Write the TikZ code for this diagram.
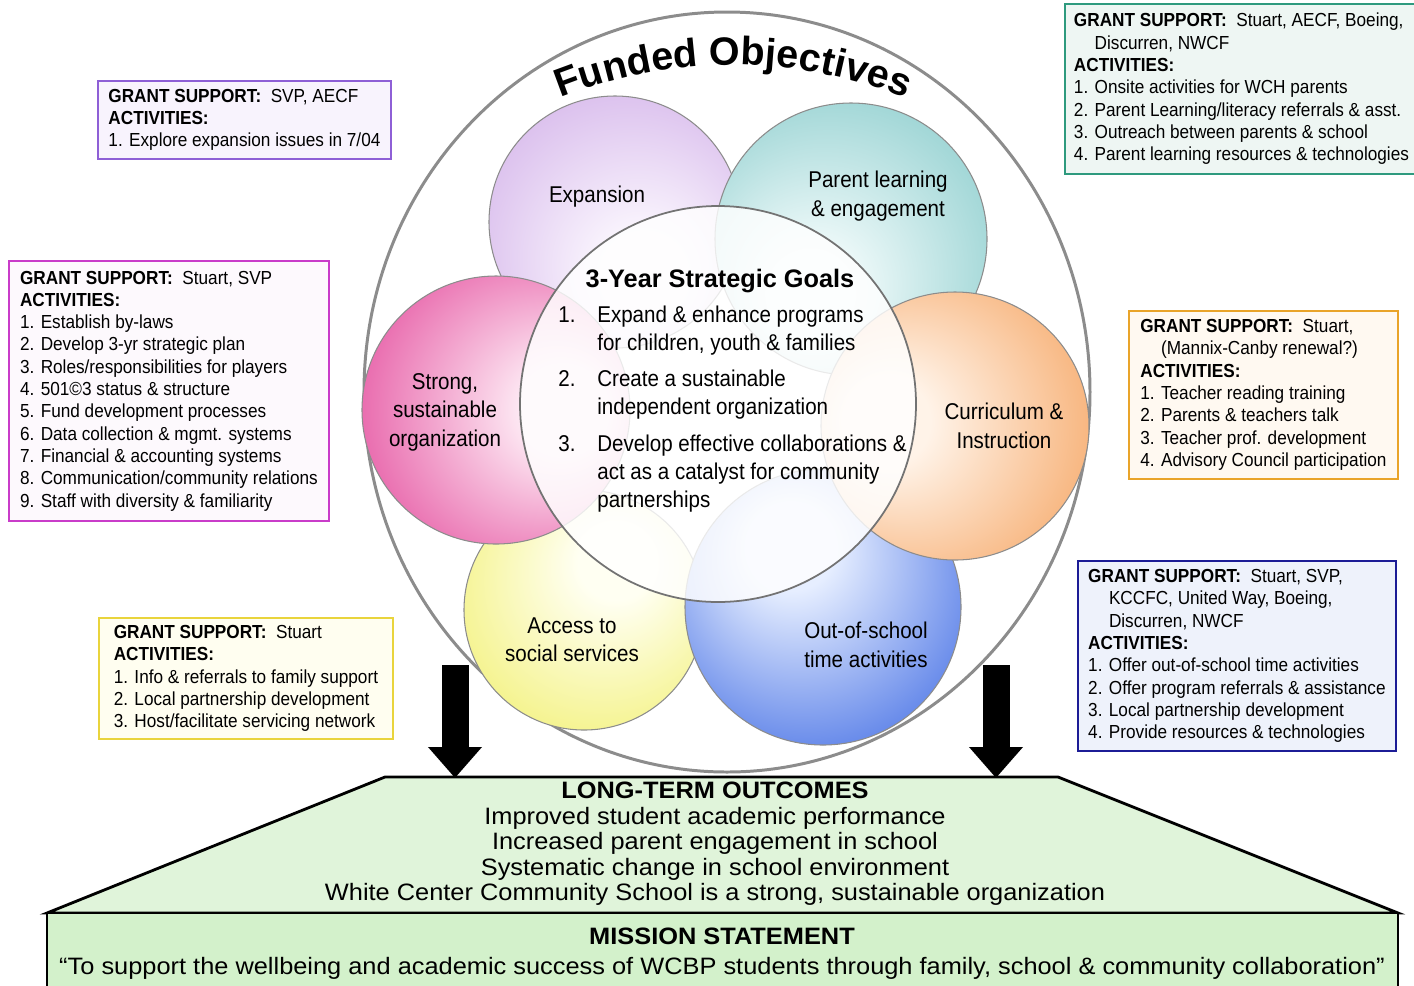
\documentclass[tikz,border=0pt]{standalone}
\usepackage{fontspec}
\setmainfont{Liberation Sans}
\newfontfamily\boxfont[FakeStretch=0.91]{Liberation Sans}
\newfontfamily\petalfont[FakeStretch=0.9]{Liberation Sans}
\newfontfamily\outfont[FakeStretch=1.07]{Liberation Sans}
\usetikzlibrary{arrows.meta,decorations.text}
\definecolor{expedge}{HTML}{8E5FD6}
\definecolor{expfill}{HTML}{F8F3FD}
\definecolor{paredge}{HTML}{2E9A7E}
\definecolor{parfill}{HTML}{EEF6F3}
\definecolor{orgedge}{HTML}{C93CC9}
\definecolor{orgfill}{HTML}{FDF9FD}
\definecolor{curedge}{HTML}{E9A42A}
\definecolor{curfill}{HTML}{FFF9F1}
\definecolor{accedge}{HTML}{E9D43C}
\definecolor{accfill}{HTML}{FFFEF0}
\definecolor{outedge}{HTML}{1C1C96}
\definecolor{outfill}{HTML}{EEF2FB}
\definecolor{ltogreen}{HTML}{E0F4DA}
\definecolor{missgreen}{HTML}{D3F1CB}
\definecolor{expin}{HTML}{FBF7FE}
\definecolor{expout}{HTML}{CDA8E6}
\definecolor{parin}{HTML}{F0FAFA}
\definecolor{parout}{HTML}{7CC6C6}
\definecolor{curin}{HTML}{FFF3E8}
\definecolor{curout}{HTML}{F49A50}
\definecolor{outin}{HTML}{E6EEFF}
\definecolor{outout}{HTML}{2A5AE0}
\definecolor{accin}{HTML}{FFFFF2}
\definecolor{accout}{HTML}{F0EE60}
\definecolor{orgin}{HTML}{FDE8F3}
\definecolor{orgout}{HTML}{E0338F}
\pgfdeclareradialshading{expball}{\pgfpoint{7bp}{-13bp}}{color(0bp)=(expin); color(8bp)=(expin); color(35bp)=(expout!80!expin); color(50bp)=(expout)}
\pgfdeclareradialshading{parball}{\pgfpoint{-9bp}{-12bp}}{color(0bp)=(parin); color(8bp)=(parin); color(35bp)=(parout!80!parin); color(50bp)=(parout)}
\pgfdeclareradialshading{curball}{\pgfpoint{-15bp}{1bp}}{color(0bp)=(curin); color(8bp)=(curin); color(35bp)=(curout!80!curin); color(50bp)=(curout)}
\pgfdeclareradialshading{outball}{\pgfpoint{-7bp}{13bp}}{color(0bp)=(outin); color(8bp)=(outin); color(35bp)=(outout!80!outin); color(50bp)=(outout)}
\pgfdeclareradialshading{accball}{\pgfpoint{8bp}{12bp}}{color(0bp)=(accin); color(8bp)=(accin); color(35bp)=(accout!80!accin); color(50bp)=(accout)}
\pgfdeclareradialshading{orgball}{\pgfpoint{15bp}{0bp}}{color(0bp)=(orgin); color(8bp)=(orgin); color(35bp)=(orgout!80!orgin); color(50bp)=(orgout)}
\begin{document}
\begin{tikzpicture}[x=0.02cm,y=0.02cm,
  gsbox/.style={draw, line width=1.1pt, anchor=north west, align=left, inner xsep=0.18cm, inner ysep=0pt,
    font={\boxfont\fontsize{10.75}{12.7}\selectfont}},
  petal/.style={draw=black!45, line width=0.6pt},
  petlbl/.style={align=center, font={\petalfont\fontsize{13}{16.2}\selectfont}},
  bigarrow/.style={line width=0.54cm, -{Triangle[width=1.04cm,length=0.62cm]}}]
\useasboundingbox (0,0) rectangle (1414,-985);
% outer oval and title
\draw [draw=black!45, line width=1.7pt] (727,-392) ellipse [x radius=363, y radius=380];
\path [decorate, decoration={text along path, text align=center,
  text={|\fontsize{22.5}{22.5}\selectfont\bfseries|Funded Objectives}}]
  (432.8,-174.3) arc [start angle=130, end angle=50, radius=467];
% petals
\draw [petal, shading=expball] (615,-222) circle (126);
\draw [petal, shading=parball] (851,-239) circle (136);
\draw [petal, shading=accball] (584,-610) circle (120);
\draw [petal, shading=outball] (823,-607) circle (138);
\draw [petal, shading=curball] (955,-426) circle (134);
\draw [petal, shading=orgball] (496,-410) circle (134);
\draw [draw=black!55, line width=1pt, fill=white, fill opacity=0.82] (718,-404) circle (198);
\node [petlbl] (expansion) at (597,-197) {Expansion};
\node [petlbl] (parent) at (878,-196) {Parent learning\\ \& engagement};
\node [petlbl] (curric) at (1004,-426) {Curriculum \&\\ Instruction};
\node [petlbl] (outschool) at (866,-645) {Out-of-school\\ time activities};
\node [petlbl] (access) at (572,-640) {Access to\\ social services};
\node [petlbl] (strong) at (445,-412) {Strong,\\ sustainable\\ organization};
% goals
\node [font={\bfseries\fontsize{14.4}{16}\selectfont}] (goals-title) at (720,-281) {3-Year Strategic Goals};
\node [anchor=west, align=left, inner sep=0pt, font={\petalfont\fontsize{13}{16}\selectfont}] (goals) at (558,-409)
  {\makebox[0.78cm][l]{1.}Expand \& enhance programs\\
   \hspace*{0.78cm}for children, youth \& families\\[0.16cm]
   \makebox[0.78cm][l]{2.}Create a sustainable\\
   \hspace*{0.78cm}independent organization\\[0.16cm]
   \makebox[0.78cm][l]{3.}Develop effective collaborations \&\\
   \hspace*{0.78cm}act as a catalyst for community\\
   \hspace*{0.78cm}partnerships};
% grant boxes
\node [gsbox, draw=expedge, fill=expfill, minimum width=5.86cm, minimum height=1.56cm] (gsExp) at (97,-80)
  {\textbf{GRANT SUPPORT:}\ \ SVP, AECF\\
   \textbf{ACTIVITIES:}\\
   1. Explore expansion issues in 7/04};
\node [gsbox, draw=paredge, fill=parfill, minimum width=7.06cm, minimum height=3.4cm] (gsPar) at (1064,-3)
  {\textbf{GRANT SUPPORT:}\ \ Stuart, AECF, Boeing,\\
   \hspace*{1.1em}Discurren, NWCF\\
   \textbf{ACTIVITIES:}\\
   1. Onsite activities for WCH parents\\
   2. Parent Learning/literacy referrals \& asst.\\
   3. Outreach between parents \& school\\
   4. Parent learning resources \& technologies};
\node [gsbox, draw=orgedge, fill=orgfill, minimum width=6.4cm, minimum height=5.2cm] (gsOrg) at (8,-260)
  {\textbf{GRANT SUPPORT:}\ \ Stuart, SVP\\
   \textbf{ACTIVITIES:}\\
   1. Establish by-laws\\
   2. Develop 3-yr strategic plan\\
   3. Roles/responsibilities for players\\
   4. 501©3 status \& structure\\
   5. Fund development processes\\
   6. Data collection \& mgmt. systems\\
   7. Financial \& accounting systems\\
   8. Communication/community relations\\
   9. Staff with diversity \& familiarity};
\node [gsbox, draw=curedge, fill=curfill, minimum width=5.38cm, minimum height=3.36cm] (gsCur) at (1128,-310)
  {\textbf{GRANT SUPPORT:}\ \ Stuart,\\
   \hspace*{1.1em}(Mannix-Canby renewal?)\\
   \textbf{ACTIVITIES:}\\
   1. Teacher reading training\\
   2. Parents \& teachers talk\\
   3. Teacher prof. development\\
   4. Advisory Council participation};
\node [gsbox, draw=accedge, fill=accfill, minimum width=5.88cm, minimum height=2.42cm] (gsAcc) at (98,-617)
  {\textbf{GRANT SUPPORT:}\ \ Stuart\\
   \textbf{ACTIVITIES:}\\
   1. Info \& referrals to family support\\
   2. Local partnership development\\
   3. Host/facilitate servicing network};
\node [gsbox, draw=outedge, fill=outfill, minimum width=6.36cm, minimum height=3.8cm] (gsOut) at (1077,-560)
  {\textbf{GRANT SUPPORT:}\ \ Stuart, SVP,\\
   \hspace*{1.1em}KCCFC, United Way, Boeing,\\
   \hspace*{1.1em}Discurren, NWCF\\
   \textbf{ACTIVITIES:}\\
   1. Offer out-of-school time activities\\
   2. Offer program referrals \& assistance\\
   3. Local partnership development\\
   4. Provide resources \& technologies};
% outcomes and mission
\draw [line width=1.6pt, fill=ltogreen] (385,-777) -- (1058,-777) -- (1398,-913) -- (47,-913) -- cycle;
\draw [line width=1.6pt, fill=missgreen] (47,-913) rectangle (1398,-1000);
\coordinate (arrL-top) at (455,-665);
\coordinate (arrL-tip) at (455,-778);
\coordinate (arrR-top) at (996,-665);
\coordinate (arrR-tip) at (996,-778);
\draw [bigarrow] (arrL-top) -- (arrL-tip);
\draw [bigarrow] (arrR-top) -- (arrR-tip);
\node [align=center, font={\outfont\fontsize{13.5}{14.5}\selectfont}] (outcomes) at (715,-844)
  {\textbf{LONG-TERM OUTCOMES}\\
   Improved student academic performance\\
   Increased parent engagement in school\\
   Systematic change in school environment\\
   White Center Community School is a strong, sustainable organization};
\node [align=center, font={\outfont\fontsize{13.5}{17}\selectfont}] (mission) at (722,-954)
  {\textbf{MISSION STATEMENT}\\
   “To support the wellbeing and academic success of WCBP students through family, school \& community collaboration”};
\end{tikzpicture}
\end{document}
